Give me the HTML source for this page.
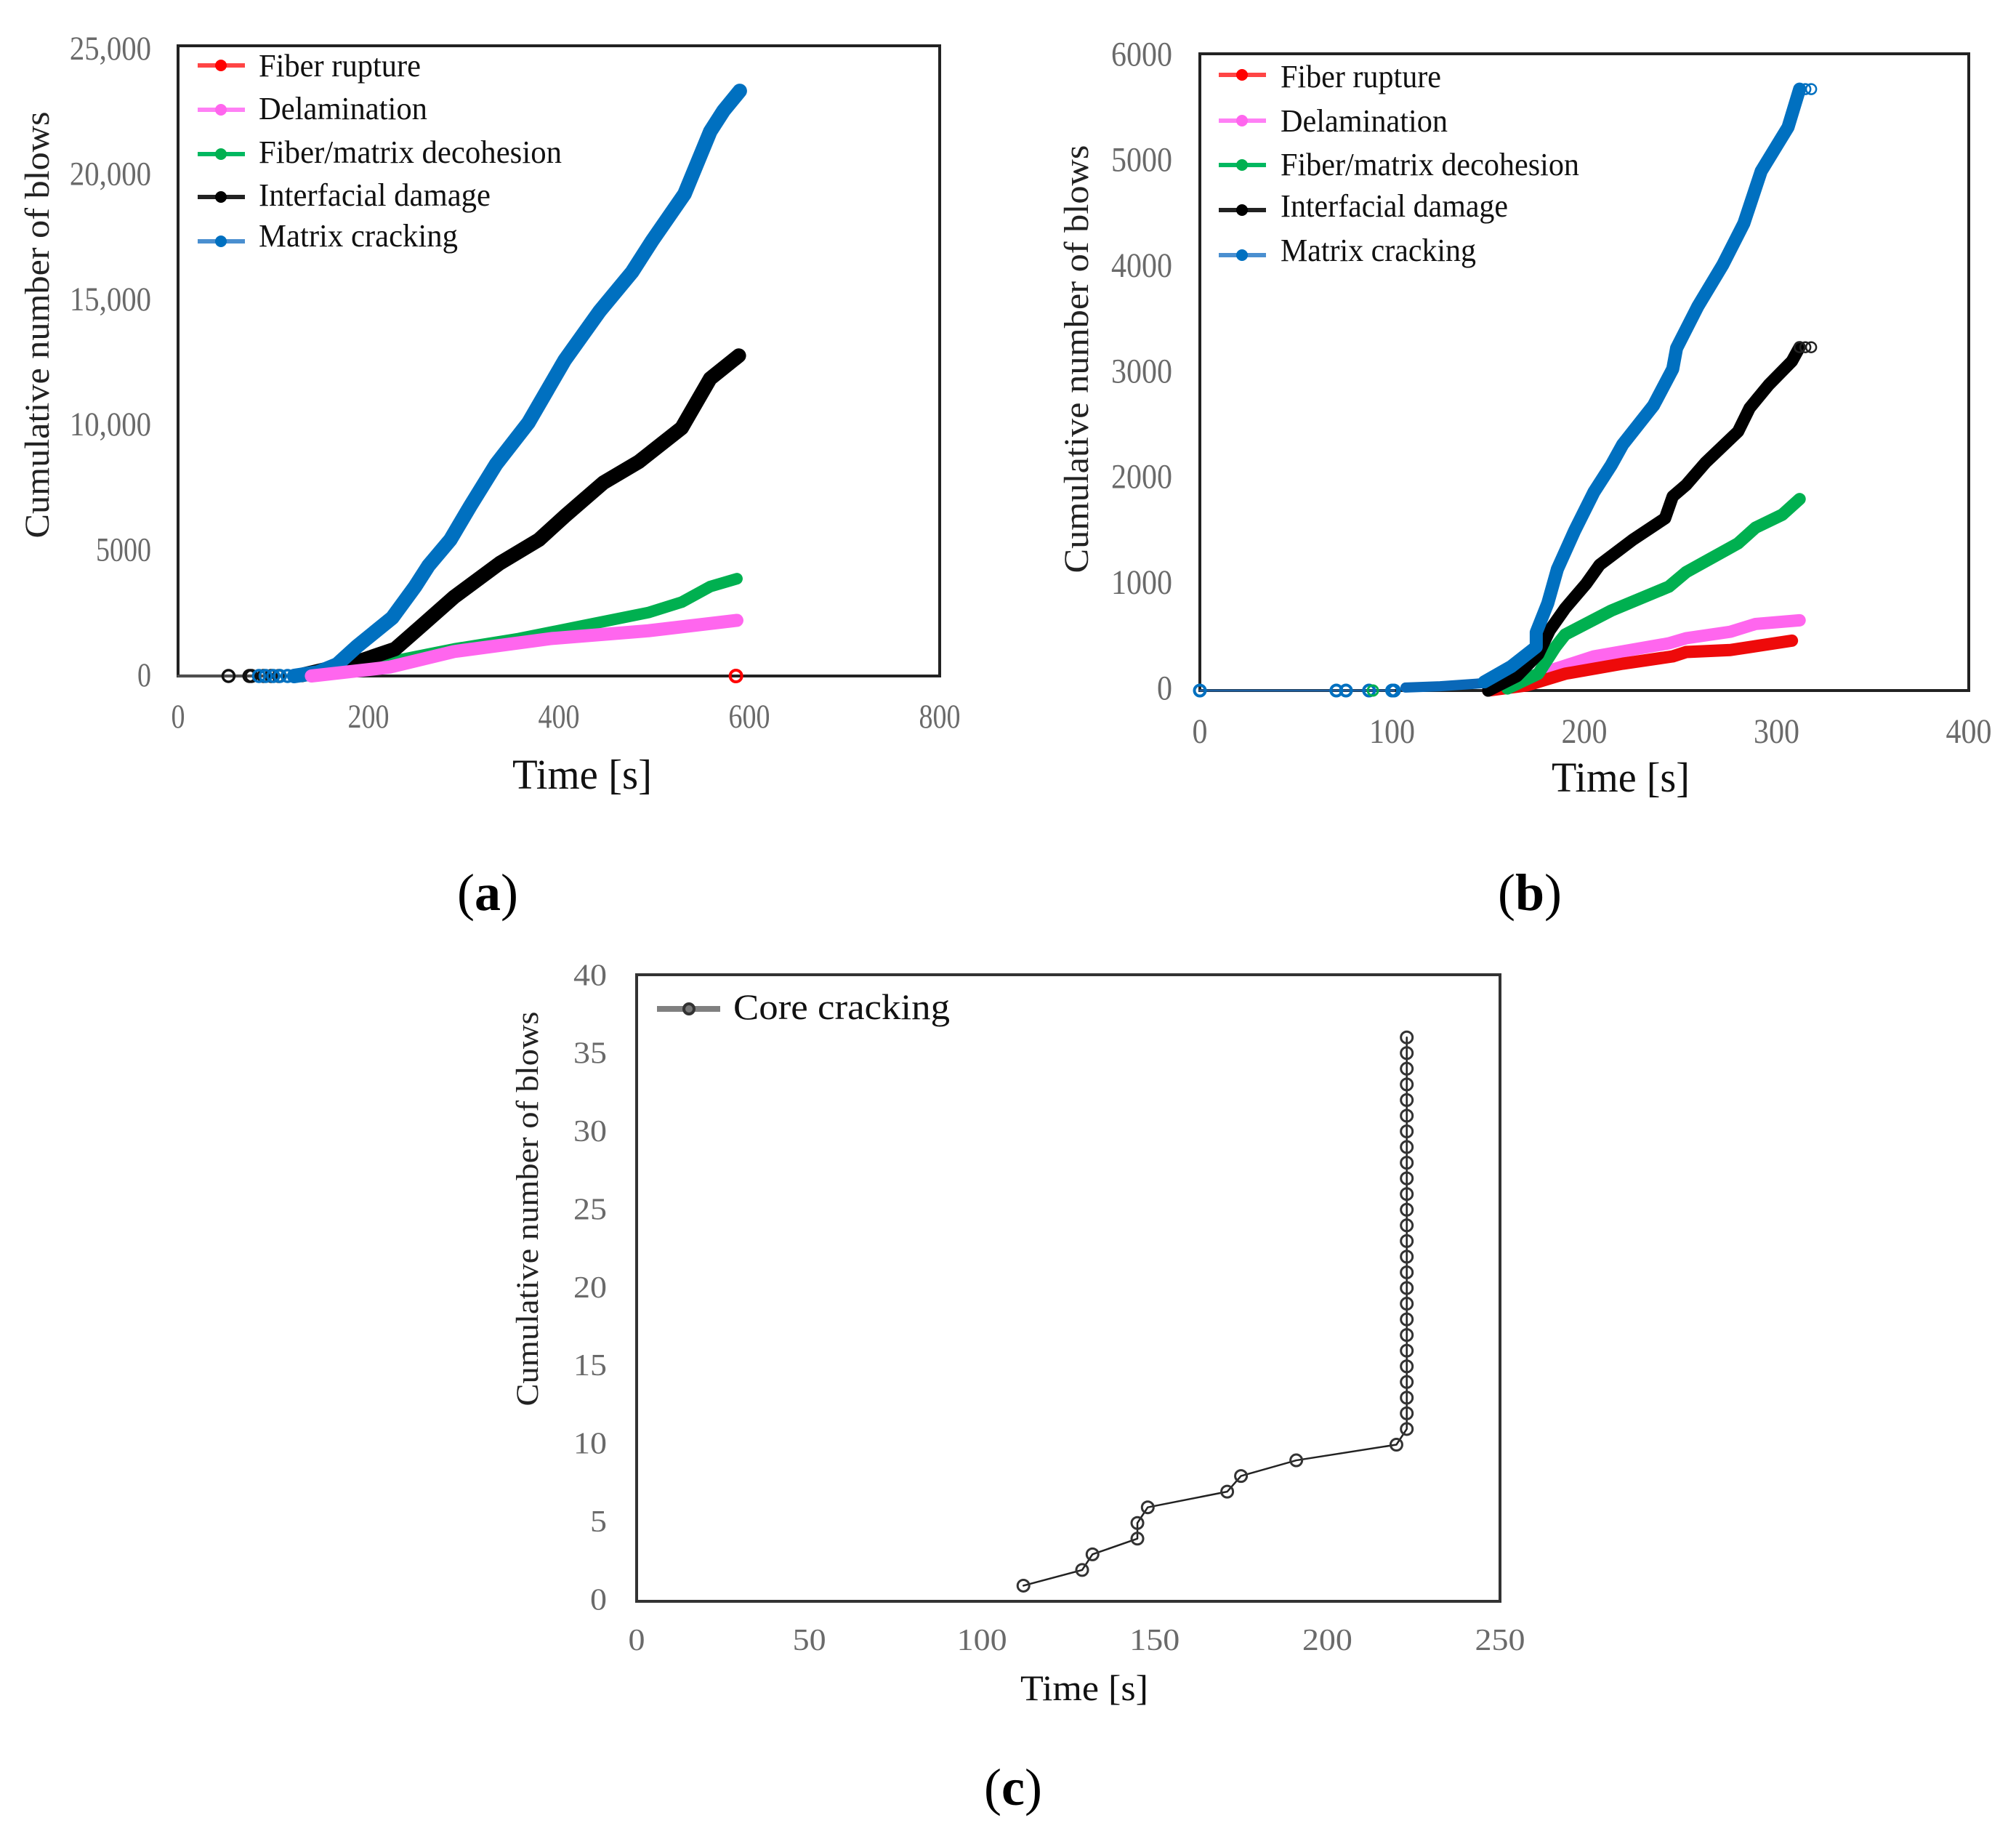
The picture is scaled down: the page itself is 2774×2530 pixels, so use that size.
<!DOCTYPE html>
<html lang="en">
<head>
<meta charset="utf-8">
<title>Cumulative number of blows versus time</title>
<style>
  html, body { margin: 0; padding: 0; background: #fff; }
  svg { display: block; }
  text { font-family: "Liberation Serif", serif; }
</style>
</head>
<body>
<svg id="figure" xmlns="http://www.w3.org/2000/svg" width="2774" height="2530" viewBox="0 0 2774 2530">
  <rect width="2774" height="2530" fill="#ffffff"/>

  <g id="panelA">
    <rect x="245" y="63" width="1048" height="867" fill="none" stroke="#222" stroke-width="4"/>
    <text transform="translate(67,447) rotate(-90)" text-anchor="middle" font-size="48" fill="#222" textLength="587" lengthAdjust="spacingAndGlyphs">Cumulative number of blows</text>
    <text x="705" y="1085" font-size="58" fill="#111" textLength="192" lengthAdjust="spacingAndGlyphs">Time [s]</text>
    <g font-size="44" fill="#111">
      <g><line x1="272" x2="337" y1="90" y2="90" stroke="#ff4545" stroke-width="6"/><circle cx="304" cy="90" r="8" fill="#ff0000"/><text x="356" y="105" textLength="223" lengthAdjust="spacingAndGlyphs">Fiber rupture</text></g>
      <g><line x1="272" x2="337" y1="151" y2="151" stroke="#ff80f5" stroke-width="6"/><circle cx="304" cy="151" r="8" fill="#ff66ee"/><text x="356" y="164" textLength="232" lengthAdjust="spacingAndGlyphs">Delamination</text></g>
      <g><line x1="272" x2="337" y1="212" y2="212" stroke="#00b860" stroke-width="6"/><circle cx="304" cy="212" r="8" fill="#00b050"/><text x="356" y="224" textLength="417" lengthAdjust="spacingAndGlyphs">Fiber/matrix decohesion</text></g>
      <g><line x1="272" x2="337" y1="271" y2="271" stroke="#222" stroke-width="6"/><circle cx="304" cy="271" r="8" fill="#000"/><text x="356" y="283" textLength="319" lengthAdjust="spacingAndGlyphs">Interfacial damage</text></g>
      <g><line x1="272" x2="337" y1="332" y2="332" stroke="#4a8fd0" stroke-width="6"/><circle cx="304" cy="332" r="8" fill="#0070c0"/><text x="356" y="339" textLength="274" lengthAdjust="spacingAndGlyphs">Matrix cracking</text></g>
    </g>
    <text x="671" y="1252" text-anchor="middle" font-size="72" fill="#000">(<tspan font-weight="bold">a</tspan>)</text>
  </g>

  <g id="panelB">
    <rect x="1651" y="74" width="1058" height="876" fill="none" stroke="#222" stroke-width="4"/>
    <text transform="translate(1497,494) rotate(-90)" text-anchor="middle" font-size="48" fill="#222" textLength="589" lengthAdjust="spacingAndGlyphs">Cumulative number of blows</text>
    <text x="2135" y="1089" font-size="58" fill="#111" textLength="190" lengthAdjust="spacingAndGlyphs">Time [s]</text>
    <g font-size="44" fill="#111">
      <g><line x1="1677" x2="1742" y1="103" y2="103" stroke="#ff4545" stroke-width="6"/><circle cx="1709" cy="103" r="8" fill="#ff0000"/><text x="1762" y="120" textLength="221" lengthAdjust="spacingAndGlyphs">Fiber rupture</text></g>
      <g><line x1="1677" x2="1742" y1="166" y2="166" stroke="#ff80f5" stroke-width="6"/><circle cx="1709" cy="166" r="8" fill="#ff66ee"/><text x="1762" y="181" textLength="230" lengthAdjust="spacingAndGlyphs">Delamination</text></g>
      <g><line x1="1677" x2="1742" y1="227" y2="227" stroke="#00b860" stroke-width="6"/><circle cx="1709" cy="227" r="8" fill="#00b050"/><text x="1762" y="241" textLength="411" lengthAdjust="spacingAndGlyphs">Fiber/matrix decohesion</text></g>
      <g><line x1="1677" x2="1742" y1="289" y2="289" stroke="#222" stroke-width="6"/><circle cx="1709" cy="289" r="8" fill="#000"/><text x="1762" y="298" textLength="313" lengthAdjust="spacingAndGlyphs">Interfacial damage</text></g>
      <g><line x1="1677" x2="1742" y1="351" y2="351" stroke="#4a8fd0" stroke-width="6"/><circle cx="1709" cy="351" r="8" fill="#0070c0"/><text x="1762" y="359" textLength="269" lengthAdjust="spacingAndGlyphs">Matrix cracking</text></g>
    </g>
    <text x="2105" y="1252" text-anchor="middle" font-size="72" fill="#000">(<tspan font-weight="bold">b</tspan>)</text>
  </g>

  <g id="panelC">
    <rect x="876" y="1341" width="1188" height="862" fill="none" stroke="#333" stroke-width="4"/>
    <text transform="translate(740,1663) rotate(-90)" text-anchor="middle" font-size="43" fill="#222" textLength="543" lengthAdjust="spacingAndGlyphs">Cumulative number of blows</text>
    <text x="1404" y="2339" font-size="50" fill="#111" textLength="176" lengthAdjust="spacingAndGlyphs">Time [s]</text>
    <g>
      <g><line x1="904" x2="991" y1="1388" y2="1388" stroke="#808080" stroke-width="8"/><circle cx="948" cy="1388" r="7" fill="#777" stroke="#333" stroke-width="4"/><text x="1009" y="1402" font-size="50" fill="#111" textLength="298" lengthAdjust="spacingAndGlyphs">Core cracking</text></g>
    </g>
    <text x="1394" y="2483" text-anchor="middle" font-size="72" fill="#000">(<tspan font-weight="bold">c</tspan>)</text>
  </g>
</svg>

<script>
// ---------- Panel (a) data ----------
const aXTicks = [0, 200, 400, 600, 800];
const aYTicks = [0, 5000, 10000, 15000, 20000, 25000];
const aYLabels = ['0', '5000', '10,000', '15,000', '20,000', '25,000'];

const aMatrixTimes = [122, 147, 167, 188, 225, 249, 263, 286, 307, 334, 368, 406, 443, 477, 498, 532, 559, 573, 590];
const aMatrixBlows = [0, 144, 454, 1176, 2310, 3548, 4373, 5405, 6746, 8396, 10047, 12522, 14480, 16030, 17267, 19124, 21600, 22425, 23209];
const aInterfacialTimes = [130, 188, 228, 256, 290, 338, 379, 406, 447, 484, 529, 559, 589];
const aInterfacialBlows = [40, 557, 1073, 2001, 3136, 4477, 5405, 6333, 7674, 8500, 9840, 11800, 12708];
const aDecohesionTimes = [140, 222, 290, 358, 426, 494, 529, 559, 587];
const aDecohesionBlows = [0, 557, 1073, 1485, 2001, 2517, 2929, 3548, 3858];
const aDelaminationTimes = [140, 222, 290, 392, 494, 587];
const aDelaminationBlows = [0, 350, 970, 1485, 1795, 2207];
const aRuptureTimes = [586];
const aRuptureBlows = [0];
const aInterfacialEarlyTimes = [53, 75, 77, 90, 98, 106];
const aInterfacialEarlyBlows = [0, 0, 0, 0, 0, 0];
const aMatrixEarlyTimes = [85, 92, 100, 107, 115];
const aMatrixEarlyBlows = [0, 0, 0, 0, 0];

// ---------- Panel (b) data ----------
const bXTicks = [0, 100, 200, 300, 400];
const bYTicks = [0, 1000, 2000, 3000, 4000, 5000, 6000];
const bYLabels = ['0', '1000', '2000', '3000', '4000', '5000', '6000'];

const bMatrixTimes = [148, 162, 175, 175, 181, 186, 195, 205, 214, 220, 236, 246, 248, 259, 272, 283, 292, 306, 312];
const bMatrixBlows = [82, 226, 411, 548, 822, 1144, 1507, 1870, 2123, 2319, 2686, 3030, 3226, 3618, 4010, 4402, 4893, 5309, 5667];
const bMatrixLowTimes = [107, 125, 148];
const bMatrixLowBlows = [28, 40, 70];
const bInterfacialTimes = [150, 165, 176, 182, 190, 201, 208, 225, 242, 246, 253, 263, 280, 286, 296, 308, 312];
const bInterfacialBlows = [0, 137, 342, 568, 774, 1007, 1185, 1418, 1623, 1829, 1938, 2147, 2441, 2662, 2882, 3103, 3235];
const bDecohesionTimes = [160, 176, 185, 190, 214, 244, 253, 280, 289, 303, 312];
const bDecohesionBlows = [20, 158, 411, 527, 753, 979, 1116, 1387, 1534, 1657, 1804];
const bDelaminationTimes = [160, 177, 205, 244, 253, 276, 289, 312];
const bDelaminationBlows = [20, 158, 322, 445, 493, 554, 627, 662];
const bRuptureTimes = [150, 170, 190, 220, 246, 253, 276, 308];
const bRuptureBlows = [0, 48, 158, 253, 322, 363, 382, 470];
const bMatrixBaseTimes = [0, 71, 76, 88, 100, 101];
const bMatrixBaseBlows = [0, 0, 0, 0, 0, 0];
const bMatrixEndTimes = [312, 315, 318];
const bMatrixEndBlows = [5667, 5667, 5667];
const bInterfacialEndTimes = [312, 315, 318];
const bInterfacialEndBlows = [3235, 3235, 3235];
const bDecohesionEarlyTimes = [90];
const bDecohesionEarlyBlows = [0];

// ---------- Panel (c) data ----------
const cXTicks = [0, 50, 100, 150, 200, 250];
const cYTicks = [0, 5, 10, 15, 20, 25, 30, 35, 40];
const cYLabels = ['0', '5', '10', '15', '20', '25', '30', '35', '40'];
const cCoreTimes = [112, 129, 132, 145, 145, 148, 171, 175, 191, 220, 223, 223, 223, 223, 223, 223, 223, 223, 223, 223, 223, 223, 223, 223, 223, 223, 223, 223, 223, 223, 223, 223, 223, 223, 223, 223];
const cCoreBlows = [1, 2, 3, 4, 5, 6, 7, 8, 9, 10, 11, 12, 13, 14, 15, 16, 17, 18, 19, 20, 21, 22, 23, 24, 25, 26, 27, 28, 29, 30, 31, 32, 33, 34, 35, 36];

// ---------- Drawing ----------
const NS = 'http://www.w3.org/2000/svg';

function linearScale(d0, d1, r0, r1) {
  return function (v) { return r0 + (v - d0) / (d1 - d0) * (r1 - r0); };
}

function drawCurve(parent, name, xs, ys, sx, sy, color, width) {
  const el = document.createElementNS(NS, 'polyline');
  
  
  el.setAttribute('points', xs.map(function (t, i) { return sx(t) + ',' + sy(ys[i]); }).join(' '));
  el.setAttribute('fill', 'none');
  el.setAttribute('stroke', color);
  el.setAttribute('stroke-width', width);
  el.setAttribute('stroke-linejoin', 'round');
  el.setAttribute('stroke-linecap', 'round');
  parent.appendChild(el);
}

function drawMarkers(parent, name, xs, ys, sx, sy, color, radius, width) {
  xs.forEach(function (t, i) {
    const el = document.createElementNS(NS, 'circle');
    
    
    el.setAttribute('cx', sx(t));
    el.setAttribute('cy', sy(ys[i]));
    el.setAttribute('r', radius);
    el.setAttribute('fill', 'none');
    el.setAttribute('stroke', color);
    el.setAttribute('stroke-width', width);
    parent.appendChild(el);
  });
}

function drawLabel(parent, name, str, x, y, anchor, size, digitWidth) {
  const el = document.createElementNS(NS, 'text');
  
  
  el.setAttribute('x', x);
  el.setAttribute('y', y);
  el.setAttribute('text-anchor', anchor);
  el.setAttribute('font-size', size);
  el.setAttribute('fill', '#6a6a6a');
  const length = str.replace(',', '').length * digitWidth + (str.indexOf(',') >= 0 ? digitWidth * 0.9 : 0);
  el.setAttribute('textLength', length);
  el.setAttribute('lengthAdjust', 'spacingAndGlyphs');
  el.textContent = str;
  parent.appendChild(el);
}

function drawAxisLabels(parent, prefix, xTicks, yTicks, yLabels, sx, sy, xLabelBaseline, yLabelRight, size, digitWidth) {
  xTicks.forEach(function (v) {
    drawLabel(parent, prefix + '-x-tick-label', String(v), sx(v), xLabelBaseline, 'middle', size, digitWidth);
  });
  yTicks.forEach(function (v, i) {
    drawLabel(parent, prefix + '-y-tick-label', yLabels[i], yLabelRight, sy(v) + size * 0.34, 'end', size, digitWidth);
  });
}

// Panel (a)
const panelA = document.getElementById('panelA');
const ax = linearScale(0, 800, 245, 1293);
const ay = linearScale(0, 25000, 930, 63);
const ayLabel = linearScale(0, 25000, 928, 66);
drawAxisLabels(panelA, 'panel-a', aXTicks, aYTicks, aYLabels, ax, ayLabel, 1001, 208, 47, 19);
drawCurve(panelA, 'panel-a-baseline-trace', [0, 122], [0, 0], ax, ay, '#555555', 3);
drawMarkers(panelA, 'panel-a-interfacial-early-point', aInterfacialEarlyTimes, aInterfacialEarlyBlows, ax, ay, '#111111', 8, 3.5);
drawMarkers(panelA, 'panel-a-matrix-early-point', aMatrixEarlyTimes, aMatrixEarlyBlows, ax, ay, '#0070c0', 8, 3.5);
drawCurve(panelA, 'panel-a-series-fiber-matrix-decohesion', aDecohesionTimes, aDecohesionBlows, ax, ay, '#00b050', 16);
drawCurve(panelA, 'panel-a-series-interfacial-damage', aInterfacialTimes, aInterfacialBlows, ax, ay, '#000000', 20);
drawCurve(panelA, 'panel-a-series-matrix-cracking', aMatrixTimes, aMatrixBlows, ax, ay, '#0070c0', 20);
drawCurve(panelA, 'panel-a-series-delamination', aDelaminationTimes, aDelaminationBlows, ax, ay, '#ff66ee', 18);
drawMarkers(panelA, 'panel-a-series-fiber-rupture', aRuptureTimes, aRuptureBlows, ax, ay, '#ff0000', 8, 4);

// Panel (b)
const panelB = document.getElementById('panelB');
const bx = linearScale(0, 400, 1651, 2709);
const by = linearScale(0, 6000, 950, 74);
const byLabel = linearScale(0, 6000, 946, 74);
drawAxisLabels(panelB, 'panel-b', bXTicks, bYTicks, bYLabels, bx, byLabel, 1022, 1613, 48, 21);
drawCurve(panelB, 'panel-b-baseline-trace', bMatrixBaseTimes, bMatrixBaseBlows, bx, by, '#1f5f9f', 3);
drawMarkers(panelB, 'panel-b-matrix-early-point', bMatrixBaseTimes, bMatrixBaseBlows, bx, by, '#0070c0', 7.5, 4);
drawMarkers(panelB, 'panel-b-decohesion-early-point', bDecohesionEarlyTimes, bDecohesionEarlyBlows, bx, by, '#00b050', 7, 3);
drawCurve(panelB, 'panel-b-series-delamination', bDelaminationTimes, bDelaminationBlows, bx, by, '#ff66ee', 17);
drawCurve(panelB, 'panel-b-series-fiber-rupture', bRuptureTimes, bRuptureBlows, bx, by, '#ee0a0a', 17);
drawCurve(panelB, 'panel-b-series-fiber-matrix-decohesion', bDecohesionTimes, bDecohesionBlows, bx, by, '#00b050', 17);
drawCurve(panelB, 'panel-b-series-interfacial-damage', bInterfacialTimes, bInterfacialBlows, bx, by, '#000000', 17);
drawCurve(panelB, 'panel-b-series-matrix-cracking-low', bMatrixLowTimes, bMatrixLowBlows, bx, by, '#0a68b8', 14);
drawCurve(panelB, 'panel-b-series-matrix-cracking', bMatrixTimes, bMatrixBlows, bx, by, '#0070c0', 18);
drawMarkers(panelB, 'panel-b-interfacial-end-point', bInterfacialEndTimes, bInterfacialEndBlows, bx, by, '#222222', 7, 2.5);
drawMarkers(panelB, 'panel-b-matrix-end-point', bMatrixEndTimes, bMatrixEndBlows, bx, by, '#0070c0', 7, 2.5);

// Panel (c)
const panelC = document.getElementById('panelC');
const cx = linearScale(0, 250, 876, 2064);
const cy = linearScale(0, 40, 2203, 1341);
const cyLabel = linearScale(0, 40, 2200, 1341);
drawAxisLabels(panelC, 'panel-c', cXTicks, cYTicks, cYLabels, cx, cyLabel, 2270, 835, 42, 23);
drawCurve(panelC, 'panel-c-series-core-cracking-line', cCoreTimes, cCoreBlows, cx, cy, '#222222', 2.5);
drawMarkers(panelC, 'panel-c-series-core-cracking-point', cCoreTimes, cCoreBlows, cx, cy, '#333333', 8, 3);
</script>
</body>
</html>
